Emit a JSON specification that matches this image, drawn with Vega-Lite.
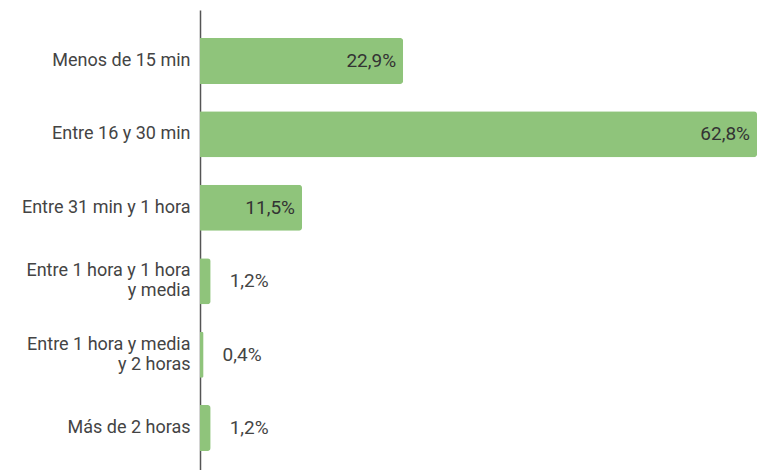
{
  "$schema": "https://vega.github.io/schema/vega-lite/v6.json",
  "width": 557,
  "height": 469,
  "autosize": {"type": "none"},
  "padding": {"left": 200, "top": 10, "right": 0, "bottom": 0},
  "background": "white",
  "config": {"view": {"stroke": null}, "font": "Roboto"},
  "data": {
    "values": [
      {"cat": "Menos de 15 min", "value": 22.9, "label": "22,9%"},
      {"cat": "Entre 16 y 30 min", "value": 62.8, "label": "62,8%"},
      {"cat": "Entre 31 min y 1 hora", "value": 11.5, "label": "11,5%"},
      {"cat": "Entre 1 hora y 1 hora|y media", "value": 1.2, "label": "1,2%"},
      {"cat": "Entre 1 hora y media|y 2 horas", "value": 0.4, "label": "0,4%"},
      {"cat": "Más de 2 horas", "value": 1.2, "label": "1,2%"}
    ]
  },
  "encoding": {
    "y": {
      "field": "cat",
      "type": "nominal",
      "sort": null,
      "scale": {"paddingInner": 0.373, "paddingOuter": 0.38},
      "axis": {
        "title": null,
        "ticks": false,
        "labelPadding": 10,
        "labelFontSize": 18,
        "labelColor": "#444444",
        "labelFont": "Roboto",
        "labelLineHeight": 20,
        "labelExpr": "split(datum.value, '|')",
        "labelOffset": {"condition": {"test": "indexof(datum.value, '|') >= 0", "value": -10}, "value": 0},
        "domainColor": "#555555",
        "domainWidth": 1.5,
        "grid": false
      }
    },
    "x": {
      "field": "value",
      "type": "quantitative",
      "scale": {"domain": [0, 62.8], "nice": false},
      "axis": null
    }
  },
  "layer": [
    {"mark": {"type": "bar", "color": "#8fc47b", "cornerRadiusEnd": 3}},
    {
      "transform": [{"filter": "datum.value >= 5"}],
      "mark": {"type": "text", "align": "right", "dx": -7, "fontSize": 19, "color": "#333333", "font": "Roboto", "baseline": "middle"},
      "encoding": {"text": {"field": "label"}}
    },
    {
      "transform": [{"filter": "datum.value < 5"}],
      "mark": {"type": "text", "align": "left", "dx": 19, "fontSize": 19, "color": "#444444", "font": "Roboto", "baseline": "middle"},
      "encoding": {"text": {"field": "label"}}
    }
  ]
}
